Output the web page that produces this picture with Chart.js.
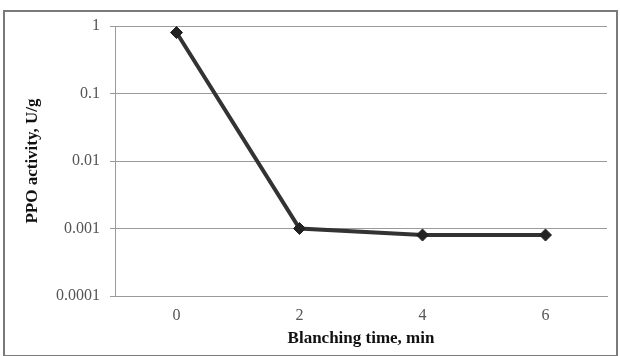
<!DOCTYPE html>
<html>
<head>
<meta charset="utf-8">
<script src="https://cdn.jsdelivr.net/npm/chart.js@4/dist/chart.umd.min.js"></script>
<style>
  html, body { margin: 0; padding: 0; background: #fff; }
  #wrap { width: 620px; height: 356px; position: relative; }
</style>
</head>
<body>
<div id="wrap"><canvas id="ppoChart" width="620" height="356"></canvas></div>
<script>
// PPO activity against blanching time
const times = ['0', '2', '4', '6'];
const activity = [0.8, 0.001, 0.0008, 0.0008];
const yTicks = [0.0001, 0.001, 0.01, 0.1, 1];
const yTickLabels = ['0.0001', '0.001', '0.01', '0.1', '1'];

// Grey frame round the whole chart
const frame = {
  id: 'frame',
  beforeDraw(chart) {
    const c = chart.ctx;
    c.save();
    c.fillStyle = '#fff';
    c.fillRect(0, 0, chart.width, chart.height);
    c.strokeStyle = '#7a7a7a';
    c.lineWidth = 2;
    c.strokeRect(4, 11, 613, 345);
    c.restore();
  }
};

Chart.defaults.font.family = "'Liberation Serif', 'Times New Roman', serif";

new Chart(document.getElementById('ppoChart'), {
  type: 'line',
  data: {
    labels: times,
    datasets: [{
      data: activity,
      borderColor: '#333',
      borderWidth: 4,
      pointStyle: 'rectRot',
      pointRadius: 6,
      pointBackgroundColor: '#222',
      pointBorderColor: '#222',
      pointBorderWidth: 1,
      tension: 0
    }]
  },
  options: {
    responsive: false,
    animation: false,
    layout: { padding: { left: 16, right: 13, top: 26, bottom: 7 } },
    plugins: { legend: { display: false }, tooltip: { enabled: false } },
    scales: {
      x: {
        type: 'category',
        offset: true,
        grid: { display: false, drawTicks: false },
        border: { display: true, color: '#9a9a9a', width: 1 },
        ticks: { color: '#555', font: { size: 16 }, padding: 10 },
        title: {
          display: true,
          text: 'Blanching time, min',
          color: '#111',
          font: { size: 17, weight: 'bold' },
          padding: { top: 4, bottom: 0 }
        },
        afterFit(scale) { scale.height = 53; }
      },
      y: {
        type: 'logarithmic',
        min: 0.0001,
        max: 1,
        afterBuildTicks(scale) {
          scale.ticks = yTicks.map(v => ({ value: v }));
        },
        ticks: {
          color: '#555',
          font: { size: 16 },
          padding: 10,
          callback(value) {
            const i = yTicks.indexOf(value);
            return i >= 0 ? yTickLabels[i] : '';
          }
        },
        grid: { color: '#9a9a9a', lineWidth: 1, tickLength: 5 },
        border: { display: true, color: '#9a9a9a', width: 1 },
        title: {
          display: true,
          text: 'PPO activity, U/g',
          color: '#111',
          font: { size: 17, weight: 'bold' },
          padding: { top: 6, bottom: 0 }
        },
        afterFit(scale) { scale.width = 99; }
      }
    }
  },
  plugins: [frame]
});
</script>
</body>
</html>
